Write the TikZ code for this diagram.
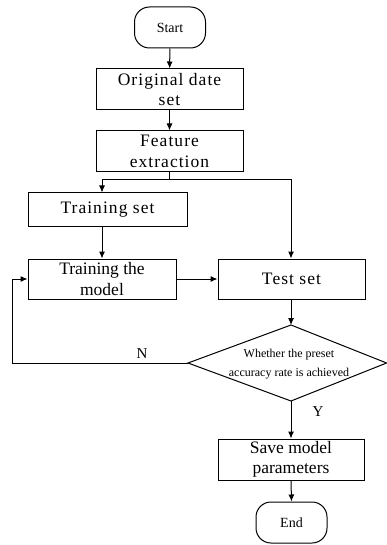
\documentclass[tikz,border=0pt]{standalone}
\usepackage{fontspec}
\setmainfont{Liberation Serif}
\newfontfamily\spaced[LetterSpace=6]{Liberation Serif}
\usetikzlibrary{arrows.meta}
\begin{document}
\begin{tikzpicture}[x=1pt,y=-1pt,
 box/.style={draw, line width=1pt, minimum width=147pt, minimum height=41pt, inner sep=0pt, align=center, font=\fontsize{17.5}{20.5}\selectfont},
 term/.style={draw, line width=1pt, rounded corners=15pt, minimum width=71pt, minimum height=41pt, inner sep=0pt, font=\fontsize{14}{16}\selectfont},
 arr/.style={-{Latex[length=7pt,width=6pt]}, line width=1pt},
 ln/.style={line width=1pt},
 lbl/.style={inner sep=0pt, font=\fontsize{15}{17}\selectfont},
 dtext/.style={inner sep=0pt, align=center, font=\fontsize{12}{19}\selectfont}]
\useasboundingbox (0,0) rectangle (387,545);
\node[term] (start) at (170,27.5) {Start};
\node[box] (orig) at (169.5,89.5) {\spaced Original date\\\spaced set};
\node[box] (feat) at (169.5,151.5) {\spaced Feature\\\spaced extraction};
\node[box, minimum width=159pt, minimum height=33pt] (trs) at (107.5,209.5) {\spaced Training set};
\node[box, minimum width=148pt, minimum height=40pt] (trm) at (102,279) {Training the\\model};
\node[box, minimum width=147pt, minimum height=40pt] (test) at (291.5,279) {\spaced Test set};
\node[box, minimum width=146pt] (save) at (291,459.5) {Save model\\parameters};
\node[term] (end) at (291.5,522.5) {End};
% decision
\coordinate (dt) at (291,325);
\coordinate (dl) at (188,363);
\coordinate (dr) at (386.6,363);
\coordinate (db) at (291,401);
\draw[ln] (dt) -- (dr) -- (db) -- (dl) -- cycle;
\node[dtext] (dec) at (289,364) {Whether the preset\\accuracy rate is achieved};
% junctions
\coordinate (split) at (169.5,180);
\coordinate (jl) at (102,180);
\coordinate (jr) at (291,180);
\coordinate (nl) at (12,363);
% connectors
\draw[arr] (start) -- (orig);
\draw[arr] (orig) -- (feat);
\draw[ln] (feat.south) -- (split);
\draw[arr] (split) -- (jl) -- (jl |- trs.north);
\draw[arr] (split) -- (jr) -- (jr |- test.north);
\draw[arr] (jl |- trs.south) -- (trm.north);
\draw[arr] (trm.east) -- (test.west);
\draw[arr] (test.south -| dt) -- (dt);
\draw[arr] (dl) -- (nl) -- (nl |- trm.west) -- (trm.west);
\draw[arr] (db) -- (save.north -| db);
\draw[arr] (save.south) -- (end.north);
\node[lbl] (nlab) at (142,354) {N};
\node[lbl] (ylab) at (318,412) {Y};
\end{tikzpicture}
\end{document}
